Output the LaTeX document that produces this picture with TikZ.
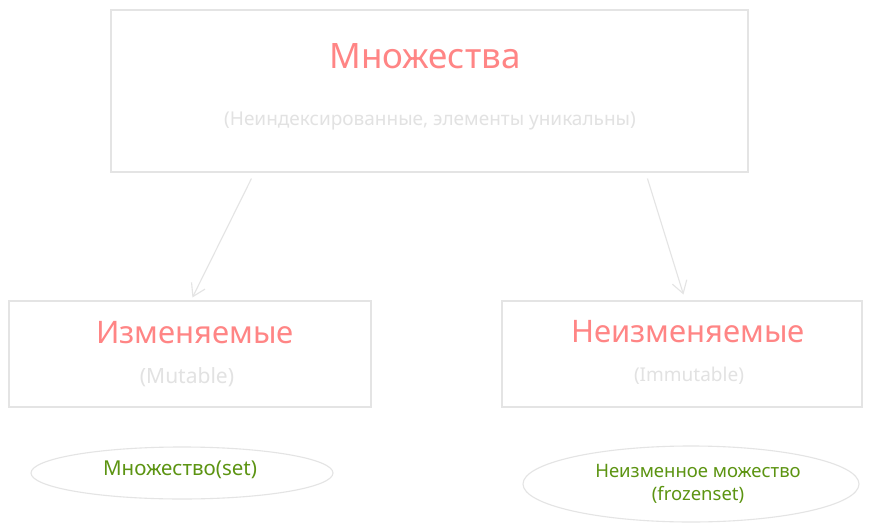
\documentclass[tikz,border=0pt]{standalone}
\usepackage{fontspec}
\setmainfont{Noto Sans}
\usetikzlibrary{arrows.meta,shapes.geometric,calc}
\definecolor{boxgray}{HTML}{E4E4E4}
\definecolor{titlered}{HTML}{FF8585}
\definecolor{subgray}{HTML}{E2E2E2}
\definecolor{leafgreen}{HTML}{5C9412}
\tikzset{
  box/.style={draw=boxgray, line width=1.1pt, rectangle, inner sep=0pt},
  leaf/.style={draw=boxgray, line width=1.1pt, ellipse, inner sep=0pt},
  titletext/.style={text=titlered, font=\fontsize{31}{36}\selectfont, inner sep=0pt},
  bigtitletext/.style={text=titlered, font=\fontsize{35}{40}\selectfont, inner sep=0pt},
  subtext/.style={text=subgray, font=\fontsize{19}{22}\selectfont, inner sep=0pt},
  leaftext/.style={text=leafgreen, font=\fontsize{18.5}{23}\selectfont, inner sep=0pt, align=center},
  link/.style={draw=boxgray, line width=1.1pt, -{Straight Barb[length=12pt,width=15pt,line width=1.1pt]}}
}
\begin{document}
\begin{tikzpicture}[x=1pt,y=-1pt]
\useasboundingbox[fill=white] (0,0) rectangle (872,532);
% boxes
\node[box, minimum width=637pt, minimum height=162pt] (top) at (429.5,91) {};
\node[box, minimum width=362pt, minimum height=106pt] (mut) at (190,354) {};
\node[box, minimum width=360pt, minimum height=106pt] (imm) at (682,354) {};
% ellipses
\node[leaf, minimum width=302pt, minimum height=52pt] (setl) at (182,473) {};
\node[leaf, minimum width=336pt, minimum height=76pt] (froz) at (691,484) {};
% texts
\node[bigtitletext] (toptitle) at (425,56) {Множества};
\node[subtext] (topsub) at (430,121) {(Неиндексированные, элементы уникальны)};
\node[titletext] (muttitle) at (195,333) {Изменяемые};
\node[subtext, font=\fontsize{21}{24}\selectfont] (mutsub) at (187,377) {(Mutable)};
\node[titletext] (immtitle) at (688,332) {Неизменяемые};
\node[subtext] (immsub) at (689,376) {(Immutable)};
\node[leaftext, font=\fontsize{20.5}{24}\selectfont] (settext) at (180,470) {Множество(set)};
\node[leaftext] (froztext) at (698,484) {Неизменное можество\\(frozenset)};
% connectors
\coordinate (a1s) at ($(top.south west)+(141,6)$);
\coordinate (a1e) at ($(mut.north west)+(184,-3)$);
\coordinate (a2s) at ($(top.south west)+(537,6)$);
\coordinate (a2e) at ($(imm.north west)+(182,-6)$);
\draw[link] (a1s) -- (a1e);
\draw[link] (a2s) -- (a2e);
\end{tikzpicture}
\end{document}
